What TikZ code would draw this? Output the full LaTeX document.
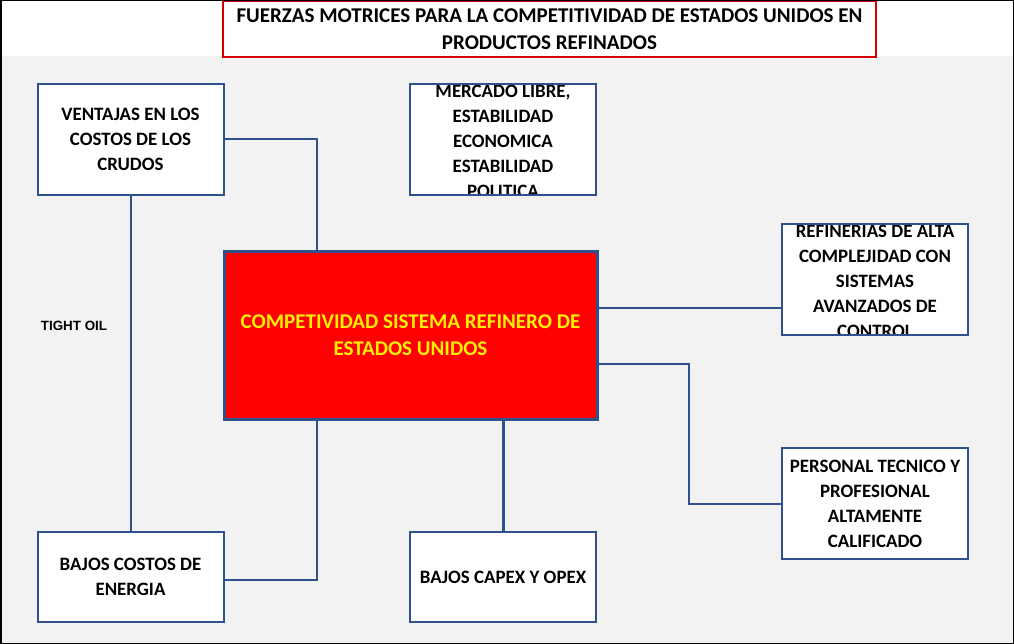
\documentclass[tikz,border=0pt]{standalone}
\usepackage{fontspec}
\setmainfont{Carlito}
\newfontfamily\arialfont{Liberation Sans}
\usetikzlibrary{positioning}
\definecolor{boxBlue}{RGB}{47,82,143}
\definecolor{bgGrey}{RGB}{242,242,242}
\definecolor{titleRed}{RGB}{210,0,0}
\definecolor{coreRed}{RGB}{255,0,0}
\definecolor{coreYellow}{RGB}{255,240,0}

\begin{document}
\begin{tikzpicture}[x=1pt,y=-1pt,font=\bfseries\fontsize{18.9}{25}\selectfont,
        bx/.style={draw=boxBlue,fill=white,line width=2pt,inner sep=0pt,text depth=0pt,
                   minimum width=186pt,minimum height=111pt,align=center},
        sm/.style={bx,minimum height=90pt},
        btx/.style={align=center,inner sep=0pt,yshift=-2pt},
        ar/.style={draw=boxBlue,line width=2pt}]
        \useasboundingbox (0,0) rectangle (1014,644);
        \fill[white] (0,0) rectangle (1014,56);
        \fill[bgGrey] (0,56) rectangle (1014,644);
        \node[draw=titleRed,fill=white,line width=1.5pt,minimum width=653pt,minimum height=56pt,
              inner sep=0pt,align=center,font=\bfseries\fontsize{21}{27}\selectfont] (tit) at (549.5,29)
              {FUERZAS MOTRICES PARA LA COMPETITIVIDAD DE ESTADOS UNIDOS EN\\PRODUCTOS REFINADOS};
        % boxes round the core
        \node[bx] (ven) at (130.5,139.5) {VENTAJAS EN LOS\\COSTOS DE LOS\\CRUDOS};
        \node[bx,path picture={\node[btx] (mertx) at (path picture bounding box.center)
              {MERCADO LIBRE,\\ESTABILIDAD\\ECONOMICA\\ESTABILIDAD\\POLITICA};}] (mer) at (503,139.5) {};
        \node[bx,path picture={\node[btx] (reftx) at (path picture bounding box.center)
              {REFINERIAS DE ALTA\\COMPLEJIDAD CON\\SISTEMAS\\AVANZADOS DE\\CONTROL};}] (ref) at (875,279.5) {};
        \node[bx] (per) at (875,503.5) {PERSONAL TECNICO Y\\PROFESIONAL\\ALTAMENTE\\CALIFICADO};
        \node[sm] (ene) at (130.5,577) {BAJOS COSTOS DE\\ENERGIA};
        \node[sm] (cap) at (503,577) {BAJOS CAPEX Y OPEX};
        \node[draw=boxBlue,fill=coreRed,line width=3pt,minimum width=373pt,minimum height=167pt,
              inner sep=0pt,align=center,text=coreYellow,font=\bfseries\fontsize{21}{27}\selectfont] (core)
              at (410.5,335.5) {COMPETIVIDAD SISTEMA REFINERO DE\\ESTADOS UNIDOS};
        \node[font=\arialfont\bfseries\fontsize{13.4}{15}\selectfont] (tight) at (74,326) {TIGHT OIL};
        % connectors
        \draw[ar] (ven.east) -| (317,0 |- core.north);
        \draw[ar] (ven.south) -- (ene.north);
        \draw[ar] (317,0 |- core.south) |- ([yshift=-3pt]ene.east);
        \draw[ar,line width=3pt] (cap.north |- core.south) -- (cap.north);
        \draw[ar] (core.east |- 0,308) -- (ref.west |- 0,308);
        \draw[ar] (core.east |- 0,364) -- (689,364) |- (per.west);
        \draw[black,line width=3pt] (0,0) rectangle (1014,644);
      \end{tikzpicture}
\end{document}
